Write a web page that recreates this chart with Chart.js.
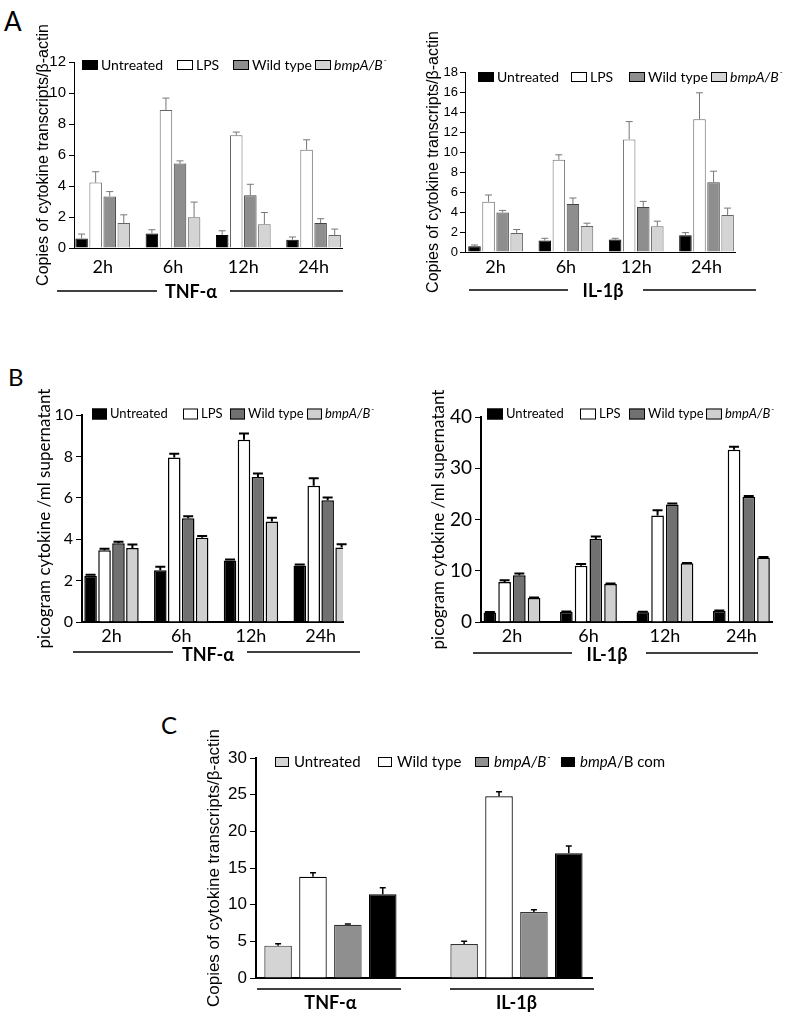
<!DOCTYPE html>
<html>
<head>
<meta charset="utf-8">
<script src="https://cdn.jsdelivr.net/npm/chart.js@4.4.0/dist/chart.umd.min.js"></script>
<style>
  body { margin: 0; background: #fff; width: 800px; height: 1020px; position: relative; overflow: hidden; }
  canvas { position: absolute; }
  .panel { position: absolute; font-family: Lato, sans-serif; color: #000; line-height: 1; }
</style>
</head>
<body>
<div class="panel" style="left:4px;top:8px;font-size:26px">A</div>
<div class="panel" style="left:8px;top:365px;font-size:24px">B</div>
<div class="panel" style="left:161px;top:713px;font-size:24px">C</div>
<canvas id="a1"></canvas>
<canvas id="a2"></canvas>
<canvas id="b1"></canvas>
<canvas id="b2"></canvas>
<canvas id="c1"></canvas>
<script>
// ---- data ----
const timePoints = ['2h', '6h', '12h', '24h'];
const seriesAB = ['Untreated', 'LPS', 'Wild type', '*bmpA/B*⁻'];

// A: transcripts, TNF-a
const aTnfUntreated = [0.62, 0.94, 0.84, 0.54];
const aTnfLps = [4.22, 8.9, 7.27, 6.34];
const aTnfWild = [3.32, 5.45, 3.41, 1.61];
const aTnfMutant = [1.61, 1.99, 1.54, 0.84];
const aTnfUntreatedErr = [0.28, 0.24, 0.27, 0.17];
const aTnfLpsErr = [0.7, 0.77, 0.21, 0.64];
const aTnfWildErr = [0.32, 0.17, 0.7, 0.28];
const aTnfMutantErr = [0.53, 0.97, 0.75, 0.38];

// A: transcripts, IL-1b
const aIlUntreated = [0.57, 1.14, 1.24, 1.68];
const aIlLps = [5.03, 9.22, 11.26, 13.27];
const aIlWild = [3.96, 4.79, 4.49, 6.97];
const aIlMutant = [1.91, 2.61, 2.58, 3.69];
const aIlUntreatedErr = [0.13, 0.23, 0.13, 0.26];
const aIlLpsErr = [0.67, 0.5, 1.78, 2.65];
const aIlWildErr = [0.2, 0.61, 0.57, 1.11];
const aIlMutantErr = [0.34, 0.27, 0.5, 0.7];

// B: protein, TNF-a
const bTnfUntreated = [2.23, 2.5, 2.97, 2.73];
const bTnfLps = [3.47, 7.95, 8.8, 6.58];
const bTnfWild = [3.8, 5.01, 7.01, 5.88];
const bTnfMutant = [3.57, 4.07, 4.85, 3.6];
const bTnfUntreatedErr = [0.05, 0.17, 0.05, 0.05];
const bTnfLpsErr = [0.07, 0.18, 0.31, 0.37];
const bTnfWildErr = [0.08, 0.1, 0.16, 0.13];
const bTnfMutantErr = [0.18, 0.08, 0.19, 0.16];

// B: protein, IL-1b
const bIlUntreated = [1.84, 1.97, 1.9, 2.16];
const bIlLps = [7.8, 11.0, 20.8, 33.6];
const bIlWild = [9.11, 16.2, 22.95, 24.46];
const bIlMutant = [4.66, 7.41, 11.48, 12.6];
const bIlUntreatedErr = [0.1, 0.1, 0.1, 0.1];
const bIlLpsErr = [0.33, 0.3, 1.0, 0.6];
const bIlWildErr = [0.33, 0.5, 0.15, 0.14];
const bIlMutantErr = [0.13, 0.1, 0.05, 0.1];

// C: transcripts with complemented strain
const cytokines = ['TNF-α', 'IL-1β'];
const seriesC = ['Untreated', 'Wild type', '*bmpA/B*⁻', '*bmpA*/B com'];
const cUntreated = [4.41, 4.64];
const cWild = [13.8, 24.77];
const cMutant = [7.27, 9.0];
const cComp = [11.41, 17.0];
const cUntreatedErr = [0.27, 0.36];
const cWildErr = [0.56, 0.63];
const cMutantErr = [0.09, 0.32];
const cCompErr = [0.89, 1.0];

// ---- helpers ----
function drawRich(ctx, text, x, y, size, family) {
  ctx.textBaseline = 'middle';
  ctx.textAlign = 'left';
  ctx.fillStyle = '#000';
  text.split('*').forEach((part, k) => {
    part.split(/(⁻)/).forEach(piece => {
      if (!piece) return;
      if (piece === '⁻') {
        ctx.font = `${Math.round(size * 0.6)}px ${family}`;
        ctx.fillText('-', x + 1, y - size * 0.32);
        x += ctx.measureText('-').width + 1;
      } else {
        ctx.font = `${k % 2 ? 'italic ' : ''}${size}px ${family}`;
        ctx.fillText(piece, x, y);
        x += ctx.measureText(piece).width;
      }
    });
  });
  return x;
}

const errorBars = {
  id: 'errorBars',
  afterDatasetsDraw(chart, args, o) {
    const ctx = chart.ctx, yScale = chart.scales.y;
    ctx.save();
    ctx.strokeStyle = o.color;
    ctx.lineWidth = o.width;
    chart.data.datasets.forEach((ds, i) => {
      chart.getDatasetMeta(i).data.forEach((bar, j) => {
        const top = yScale.getPixelForValue(ds.data[j].y + ds.errors[j]);
        ctx.beginPath();
        ctx.moveTo(bar.x, bar.y);
        ctx.lineTo(bar.x, top);
        ctx.moveTo(bar.x - o.cap, top);
        ctx.lineTo(bar.x + o.cap, top);
        ctx.stroke();
      });
    });
    ctx.restore();
  }
};

// legend drawn inside the plot, one slot per dataset
const boxLegend = {
  id: 'boxLegend',
  afterDraw(chart, args, o) {
    const ctx = chart.ctx;
    ctx.save();
    chart.data.datasets.forEach((ds, i) => {
      const x = o.xs[i];
      ctx.fillStyle = ds.backgroundColor;
      ctx.fillRect(x, o.y - o.bh / 2, o.bw, o.bh);
      ctx.strokeStyle = '#000';
      ctx.lineWidth = 1;
      ctx.strokeRect(x + 0.5, o.y - o.bh / 2 + 0.5, o.bw - 1, o.bh - 1);
      drawRich(ctx, ds.label, x + o.bw + o.pad, o.y, o.size, o.family);
    });
    ctx.restore();
  }
};

const groupLines = {
  id: 'groupLines',
  afterDraw(chart, args, o) {
    const ctx = chart.ctx;
    ctx.save();
    ctx.strokeStyle = '#000';
    ctx.lineWidth = o.width;
    o.lines.forEach(([a, b]) => {
      ctx.beginPath();
      ctx.moveTo(a, o.y);
      ctx.lineTo(b, o.y);
      ctx.stroke();
    });
    if (o.text) {
      ctx.font = 'bold 18px Lato';
      ctx.textAlign = 'center';
      ctx.textBaseline = 'middle';
      ctx.fillStyle = '#000';
      ctx.fillText(o.text, o.tx, o.ty);
    }
    ctx.restore();
  }
};

function makeChart(id, p) {
  const cv = document.getElementById(id);
  cv.width = p.box.w;
  cv.height = p.box.h;
  cv.style.left = p.box.left + 'px';
  cv.style.top = p.box.top + 'px';
  const ox = p.box.left, oy = p.box.top;
  const datasets = p.names.map((name, i) => ({
    label: name,
    data: p.values[i].map((v, k) => ({ x: k, y: v })),
    errors: p.errors[i],
    backgroundColor: p.fills[i],
    borderColor: p.borders[i],
    borderWidth: p.barBorder,
    categoryPercentage: p.catPct,
    barPercentage: p.barPct
  }));
  return new Chart(cv, {
    type: 'bar',
    data: { datasets },
    plugins: [errorBars, boxLegend, groupLines],
    options: {
      responsive: false,
      animation: false,
      layout: {
        padding: { left: 0, bottom: 0, top: p.area.t - oy, right: ox + p.box.w - p.area.r }
      },
      scales: {
        x: {
          type: 'linear',
          min: p.xRange[0],
          max: p.xRange[1],
          offset: false,
          grid: { display: false, drawTicks: false },
          border: { display: true, color: '#000', width: p.axisWidth },
          ticks: {
            stepSize: 1,
            includeBounds: false,
            autoSkip: false,
            maxRotation: 0,
            padding: p.xPad,
            color: '#000',
            font: p.xFont,
            callback: v => p.cats[v] ?? ''
          },
          afterFit: s => { s.height = oy + p.box.h - p.area.b; }
        },
        y: {
          min: 0,
          max: p.yMax,
          grid: { display: true, drawOnChartArea: false, drawTicks: true, tickLength: p.tickLen, color: '#000', lineWidth: 1 },
          border: { display: true, color: '#000', width: p.axisWidth },
          ticks: { stepSize: p.yStep, padding: p.yPad, color: '#000', font: p.yFont },
          title: { display: true, text: p.yTitle, color: '#000', font: p.titleFont, padding: { top: 4, bottom: 4 } },
          afterFit: s => { s.width = p.area.l - ox; }
        }
      },
      plugins: {
        legend: { display: false },
        tooltip: { enabled: false },
        errorBars: p.err,
        boxLegend: Object.assign({}, p.legend, { xs: p.legend.xs.map(x => x - ox), y: p.legend.y - oy }),
        groupLines: {
          width: p.group.width,
          y: p.group.y - oy,
          lines: p.group.lines.map(([a, b]) => [a - ox, b - ox]),
          text: p.group.text,
          tx: (p.group.tx || 0) - ox,
          ty: (p.group.ty || 0) - oy
        }
      }
    }
  });
}

const fillsA = ['#000000', '#ffffff', '#8e8e8e', '#d4d4d4'];
const bordersA = ['#000000', '#666666', '#444444', '#666666'];
const fillsB = ['#000000', '#ffffff', '#717171', '#d0d0d0'];
const bordersB = ['#000000', '#000000', '#000000', '#000000'];
const copiesTitle = 'Copies of cytokine transcripts/β-actin';
const pgTitle = 'picogram cytokine /ml supernatant';

makeChart('a1', {
  box: { left: 30, top: 0, w: 370, h: 310 },
  area: { l: 74, t: 62, r: 342, b: 248 },
  xRange: [-0.408, 3.404], cats: timePoints,
  names: seriesAB,
  values: [aTnfUntreated, aTnfLps, aTnfWild, aTnfMutant],
  errors: [aTnfUntreatedErr, aTnfLpsErr, aTnfWildErr, aTnfMutantErr],
  fills: fillsA, borders: bordersA, barBorder: 1, catPct: 0.8, barPct: 0.89,
  axisWidth: 1, yMax: 12, yStep: 2, tickLen: 5, yPad: 3,
  yFont: { family: 'Liberation Sans', size: 15 },
  xFont: { family: 'Lato', size: 18 }, xPad: 8,
  yTitle: copiesTitle, titleFont: { family: 'Liberation Sans', size: 16 },
  err: { color: '#777', width: 1, cap: 3.5 },
  legend: { xs: [82, 177, 233, 315], y: 65, bw: 16, bh: 10, pad: 3, size: 14, family: 'Lato' },
  group: { width: 1.3, y: 291, lines: [[57, 157], [230, 343]], text: 'TNF-α', tx: 191, ty: 292 }
});

makeChart('a2', {
  box: { left: 420, top: 0, w: 380, h: 310 },
  area: { l: 465, t: 72, r: 735, b: 252 },
  xRange: [-0.435, 3.405], cats: timePoints,
  names: seriesAB,
  values: [aIlUntreated, aIlLps, aIlWild, aIlMutant],
  errors: [aIlUntreatedErr, aIlLpsErr, aIlWildErr, aIlMutantErr],
  fills: fillsA, borders: bordersA, barBorder: 1, catPct: 0.8, barPct: 0.89,
  axisWidth: 1, yMax: 18, yStep: 2, tickLen: 5, yPad: 2,
  yFont: { family: 'Liberation Sans', size: 13 },
  xFont: { family: 'Lato', size: 18 }, xPad: 4,
  yTitle: copiesTitle, titleFont: { family: 'Liberation Sans', size: 16 },
  err: { color: '#777', width: 1, cap: 3.5 },
  legend: { xs: [478, 571, 629, 711], y: 77, bw: 16, bh: 10, pad: 3, size: 14, family: 'Lato' },
  group: { width: 1.3, y: 290, lines: [[469, 568], [643, 756]], text: 'IL-1β', tx: 603, ty: 291 }
});

makeChart('b1', {
  box: { left: 30, top: 380, w: 370, h: 290 },
  area: { l: 82, t: 415, r: 343, b: 622 },
  xRange: [-0.423, 3.32], cats: timePoints,
  names: seriesAB,
  values: [bTnfUntreated, bTnfLps, bTnfWild, bTnfMutant],
  errors: [bTnfUntreatedErr, bTnfLpsErr, bTnfWildErr, bTnfMutantErr],
  fills: fillsB, borders: bordersB, barBorder: 1.5, catPct: 0.8, barPct: 0.9,
  axisWidth: 2, yMax: 10, yStep: 2, tickLen: 6, yPad: 3,
  yFont: { family: 'Lato', size: 16 },
  xFont: { family: 'Lato', size: 18 }, xPad: 3,
  yTitle: pgTitle, titleFont: { family: 'Lato', size: 17 },
  err: { color: '#000', width: 2, cap: 5 },
  legend: { xs: [92, 183, 230, 307], y: 414, bw: 15, bh: 11, pad: 3, size: 13, family: 'Lato' },
  group: { width: 1.3, y: 652, lines: [[73, 173], [247, 360]], text: 'TNF-α', tx: 208, ty: 655 }
});

makeChart('b2', {
  box: { left: 424, top: 380, w: 376, h: 290 },
  area: { l: 481, t: 417, r: 772, b: 622 },
  xRange: [-0.405, 3.4], cats: timePoints,
  names: seriesAB,
  values: [bIlUntreated, bIlLps, bIlWild, bIlMutant],
  errors: [bIlUntreatedErr, bIlLpsErr, bIlWildErr, bIlMutantErr],
  fills: fillsB, borders: bordersB, barBorder: 1.5, catPct: 0.77, barPct: 0.86,
  axisWidth: 2, yMax: 40, yStep: 5, tickLen: 6, yPad: 3,
  yFont: { family: 'Lato', size: 19 },
  xFont: { family: 'Lato', size: 18 }, xPad: 3,
  yTitle: pgTitle, titleFont: { family: 'Lato', size: 17 },
  err: { color: '#000', width: 2, cap: 5 },
  legend: { xs: [487, 580, 629, 706], y: 414, bw: 16, bh: 11, pad: 3, size: 13, family: 'Lato' },
  group: { width: 1.3, y: 653, lines: [[473, 572], [646, 758]], text: 'IL-1β', tx: 607, ty: 655 }
});

makeChart('c1', {
  box: { left: 200, top: 730, w: 560, h: 290 },
  area: { l: 256, t: 758, r: 592, b: 978 },
  xRange: [-0.40, 1.406], cats: cytokines,
  names: seriesC,
  values: [cUntreated, cWild, cMutant, cComp],
  errors: [cUntreatedErr, cWildErr, cMutantErr, cCompErr],
  fills: ['#d4d4d4', '#ffffff', '#8f8f8f', '#000000'],
  borders: ['#333333', '#000000', '#333333', '#000000'],
  barBorder: 1.2, catPct: 0.75, barPct: 0.79,
  axisWidth: 2, yMax: 30, yStep: 5, tickLen: 6, yPad: 3,
  yFont: { family: 'Liberation Sans', size: 17 },
  xFont: { family: 'Lato', size: 18, weight: 'bold' }, xPad: 14,
  yTitle: copiesTitle, titleFont: { family: 'Liberation Sans', size: 17 },
  err: { color: '#000', width: 1.5, cap: 3 },
  legend: { xs: [275, 378, 475, 561], y: 762, bw: 14, bh: 10, pad: 5, size: 15, family: 'Lato' },
  group: { width: 1.5, y: 989, lines: [[257, 401], [450, 594]] }
});
</script>
</body>
</html>
